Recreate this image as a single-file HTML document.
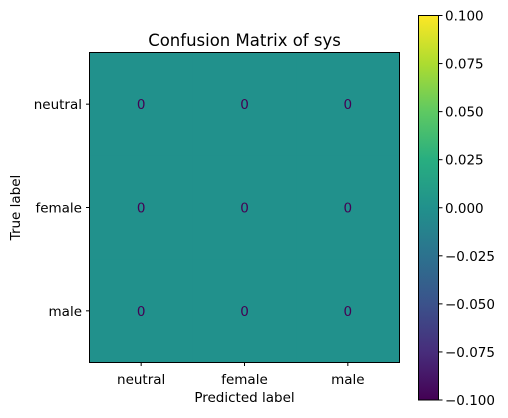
<!DOCTYPE html>
<html><head><meta charset="utf-8"><style>body{margin:0;background:#fff}svg{display:block;font-family:"DejaVu Sans","Liberation Sans",sans-serif}</style></head>
<body>
<svg id="c" width="508" height="418">
<defs><linearGradient id="vir" x1="0" y1="1" x2="0" y2="0">
<stop offset="0" stop-color="#440154"/><stop offset="0.125" stop-color="#472d7b"/><stop offset="0.25" stop-color="#3b528b"/><stop offset="0.375" stop-color="#2c728e"/><stop offset="0.5" stop-color="#21918c"/><stop offset="0.625" stop-color="#28ae80"/><stop offset="0.75" stop-color="#5ec962"/><stop offset="0.875" stop-color="#addc30"/><stop offset="1" stop-color="#fde725"/></linearGradient></defs>
<text x="244.5" y="46" font-size="16.5" text-anchor="middle">Confusion Matrix of sys</text>
<g id="cells"></g>
<rect x="89.5" y="52.5" width="310" height="310" fill="none" stroke="#000" stroke-width="1"/>
<g id="axes" font-size="13.5"></g>
<text x="244.5" y="402" font-size="13.5" text-anchor="middle">Predicted label</text>
<text x="20" y="207.5" font-size="13.5" text-anchor="middle" transform="rotate(-90 20 207.5)">True label</text>
<rect x="418.5" y="15.5" width="20" height="384.5" fill="url(#vir)" stroke="#000" stroke-width="1"/>
<g id="cbar" font-size="13.5"></g>
</svg>
<script>
const labels = ["neutral","female","male"];
const matrix = [[0,0,0],[0,0,0],[0,0,0]];
const cbTicks = [-0.1,-0.075,-0.05,-0.025,0,0.025,0.05,0.075,0.1];
const cbTickLabels = ["\u22120.100","\u22120.075","\u22120.050","\u22120.025","0.000","0.025","0.050","0.075","0.100"];
const NS="http://www.w3.org/2000/svg";
const L=89.5,T=52.5,S=310,n=labels.length,cw=S/n;
const vmin=-0.1,vmax=0.1;
function cx(i){return L+cw*(i+0.5);}
function cy(i){return T+cw*(i+0.5);}
function cbY(v){return 400-(v-vmin)/(vmax-vmin)*384.5;}
function mk(tag,attrs,parent){const e=document.createElementNS(NS,tag);for(const k in attrs)e.setAttribute(k,attrs[k]);parent.appendChild(e);return e;}
const cells=document.getElementById('cells'),axes=document.getElementById('axes'),cb=document.getElementById('cbar');
const allv=matrix.flat();const mn=Math.min(...allv),mx=Math.max(...allv);
function color(v){if(mx===mn)return"#21918c";const t=(v-mn)/(mx-mn);return t>0.5?"#fde725":"#440154";}
matrix.forEach((row,r)=>row.forEach((v,c)=>{
 const rc=mk('rect',{x:L+cw*c,y:T+cw*r,width:cw+0.5,height:cw+0.5,fill:color(v)},cells);
 
 
 const t=mk('text',{x:cx(c),y:cy(r)+5,'text-anchor':'middle','font-size':13.5,fill:"#440154"},cells);t.textContent=v;
 
 
}));
labels.forEach((lb,i)=>{
 mk('line',{x1:cx(i),x2:cx(i),y1:362.5,y2:366,stroke:'#000'},axes);
 const tx=mk('text',{x:cx(i),y:384,'text-anchor':'middle'},axes);tx.textContent=lb;
 
 
 mk('line',{x1:86,x2:89.5,y1:cy(i),y2:cy(i),stroke:'#000'},axes);
 const ty=mk('text',{x:82,y:cy(i)+5,'text-anchor':'end'},axes);ty.textContent=lb;
 
 
});
cbTicks.forEach((v,i)=>{
 const y=cbY(v);
 mk('line',{x1:439,x2:442.5,y1:y,y2:y,stroke:'#000'},cb);
 const t=mk('text',{x:445,y:y+5},cb);t.textContent=cbTickLabels[i];
 
 
});
</script>
</body></html>
